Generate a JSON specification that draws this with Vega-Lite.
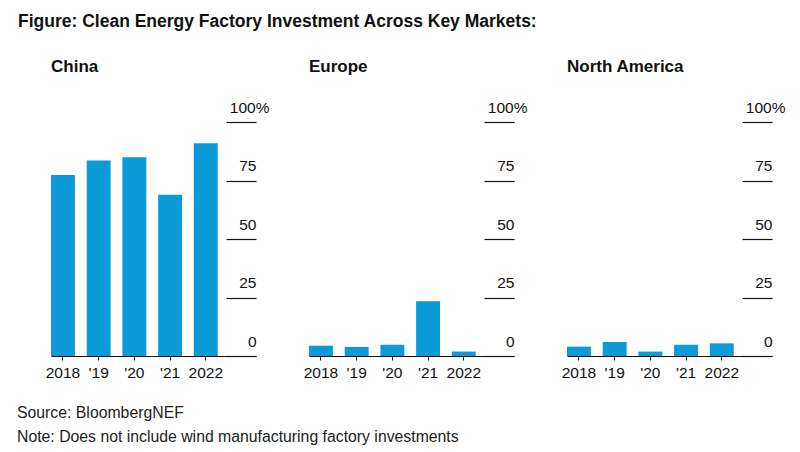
{
  "$schema": "https://vega.github.io/schema/vega-lite/v6.json",
  "background": "white",
  "padding": {"left": 17, "top": 12, "right": 5, "bottom": 5},
  "title": {
    "text": "Figure: Clean Energy Factory Investment Across Key Markets:",
    "anchor": "start",
    "frame": "group",
    "dx": -33,
    "font": "Liberation Sans",
    "fontSize": 17.5,
    "fontWeight": "bold",
    "color": "#111111",
    "offset": 28
  },
  "data": {
    "values": [
      {"region": "China", "year": "2018", "share": 77.4},
      {"region": "China", "year": "2019", "share": 83.5},
      {"region": "China", "year": "2020", "share": 84.9},
      {"region": "China", "year": "2021", "share": 68.9},
      {"region": "China", "year": "2022", "share": 90.9},
      {"region": "Europe", "year": "2018", "share": 4.4},
      {"region": "Europe", "year": "2019", "share": 3.8},
      {"region": "Europe", "year": "2020", "share": 4.8},
      {"region": "Europe", "year": "2021", "share": 23.4},
      {"region": "Europe", "year": "2022", "share": 1.9},
      {"region": "North America", "year": "2018", "share": 4.0},
      {"region": "North America", "year": "2019", "share": 6.0},
      {"region": "North America", "year": "2020", "share": 1.9},
      {"region": "North America", "year": "2021", "share": 4.8},
      {"region": "North America", "year": "2022", "share": 5.4}
    ]
  },
  "vconcat": [
    {
      "title": {
        "text": ["Source: BloombergNEF", "Note: Does not include wind manufacturing factory investments"],
        "orient": "bottom",
        "anchor": "start",
        "frame": "group",
        "dx": -34,
        "font": "Liberation Sans",
        "fontSize": 15.8,
        "fontWeight": "normal",
        "lineHeight": 24,
        "offset": 25,
        "color": "#222222"
      },
      "facet": {
        "column": {
          "field": "region",
          "type": "nominal",
          "title": null,
          "header": {
            "labelFont": "Liberation Sans",
            "labelFontSize": 17,
            "labelFontWeight": "bold",
            "labelAnchor": "start",
            "labelAlign": "left",
            "labelColor": "#111111",
            "labelPadding": 46
          }
        }
      },
      "spacing": {"column": 53},
      "bounds": "flush",
      "resolve": {"axis": {"y": "independent", "x": "independent"}},
      "spec": {
        "width": 205,
        "height": 234,
        "mark": {"type": "bar", "color": "#0b9bd8"},
        "encoding": {
          "x": {
            "field": "year",
            "type": "ordinal",
            "scale": {"paddingInner": 0.33, "paddingOuter": 0.536, "align": 0},
            "axis": {
              "title": null,
              "labelAngle": 0,
              "labelExpr": "datum.value == '2018' || datum.value == '2022' ? datum.value : \"'\" + slice(datum.value, 2)",
              "tickSize": 4,
              "tickColor": "#111111",
              "domainColor": "#111111",
              "domainWidth": 1.2,
              "labelFont": "Liberation Sans",
              "labelFontSize": 15.5,
              "labelColor": "#111111",
              "labelPadding": 5,
              "labelOverlap": false
            }
          },
          "y": {
            "field": "share",
            "type": "quantitative",
            "scale": {"domain": [0, 100], "nice": false},
            "axis": {
              "orient": "right",
              "title": null,
              "values": [0, 25, 50, 75, 100],
              "domain": false,
              "grid": false,
              "offset": -30,
              "tickSize": 30,
              "tickColor": "#111111",
              "tickWidth": 1.2,
              "labelAlign": "right",
              "labelBaseline": "alphabetic",
              "labelOffset": -10,
              "labelPadding": {"condition": {"test": "datum.value == 100", "value": 13}, "value": 0},
              "labelExpr": "datum.value == 100 ? '100%' : datum.label",
              "labelFont": "Liberation Sans",
              "labelFontSize": 15.5,
              "labelColor": "#111111",
              "labelFlush": false,
              "labelOverlap": false
            }
          }
        }
      }
    }
  ],
  "config": {"view": {"stroke": null}}
}
